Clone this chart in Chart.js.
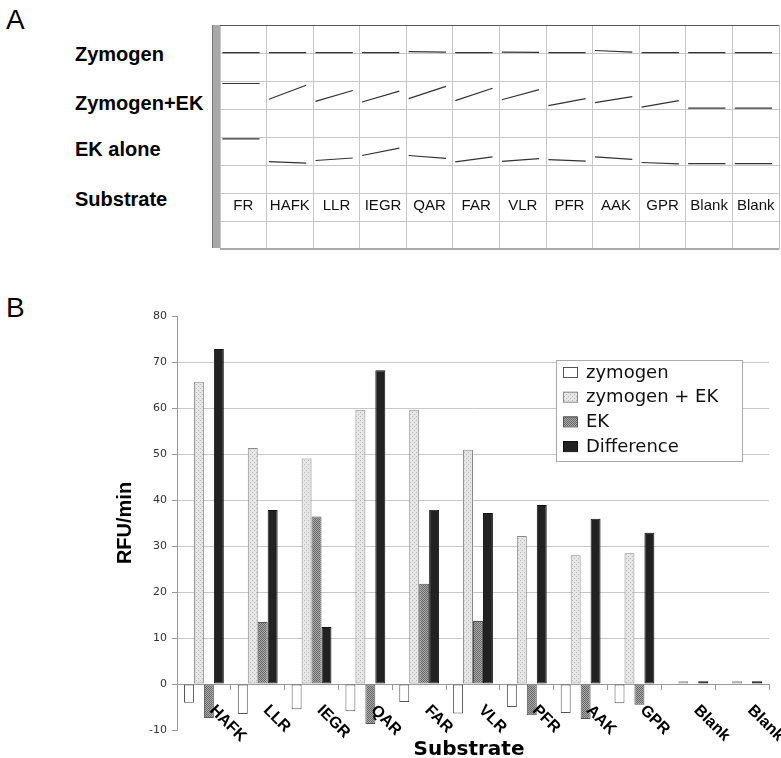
<!DOCTYPE html>
<html>
<head>
<meta charset="utf-8">
<script src="https://cdn.jsdelivr.net/npm/chart.js@4"></script>
<style>
  body { margin: 0; background: #fff; width: 781px; height: 758px; position: relative; overflow: hidden; }
  .lbl { position: absolute; font-family: "Liberation Sans", Arial, sans-serif; line-height: 1; white-space: nowrap; color: #000; }
  .row { font-weight: bold; font-size: 20px; left: 75px; }
  .panel { font-size: 28px; left: 6px; }
  #tableWrap { position: absolute; left: 220px; top: 24px; }
  #grayBar { position: absolute; left: 212px; top: 25px; width: 7px; height: 223px; background: #a8a8a8; border-left: 1px solid #777; }
  #chartWrap { position: absolute; left: 0; top: 300px; }
</style>
</head>
<body>
<div class="lbl panel" style="top:6px">A</div>
<div class="lbl panel" style="top:294px">B</div>
<div class="lbl row" style="top:44px">Zymogen</div>
<div class="lbl row" style="top:93px">Zymogen+EK</div>
<div class="lbl row" style="top:139px">EK alone</div>
<div class="lbl row" style="top:189px">Substrate</div>
<div id="grayBar"></div>
<div id="tableWrap"><canvas id="traceTable" width="560" height="226"></canvas></div>
<div id="chartWrap"><canvas id="rateChart" width="781" height="458"></canvas></div>
<div class="lbl" style="left:369px; width:200px; text-align:center; top:738px; font-family:'DejaVu Sans', sans-serif; font-weight:bold; font-size:20px;">Substrate</div>

<script>
// ---- panel A: progress traces, rise within each cell (start / end of read)
const tableSubstrates = ['FR', 'HAFK', 'LLR', 'IEGR', 'QAR', 'FAR', 'VLR', 'PFR', 'AAK', 'GPR', 'Blank', 'Blank'];
const zymTraceStart   = [0, 0, 0, 0, 0.04, 0, 0.02, 0, 0.08, 0, 0, 0];
const zymTraceEnd     = [0, 0, 0, 0, 0.02, 0, 0.01, 0, 0.02, 0, 0, 0];
const zymEKTraceStart = [0.88, 0.32, 0.24, 0.22, 0.34, 0.27, 0.30, 0.09, 0.20, 0.04, 0, 0];
const zymEKTraceEnd   = [0.88, 0.82, 0.63, 0.61, 0.78, 0.71, 0.66, 0.34, 0.41, 0.27, 0, 0];
const ekTraceStart    = [0.88, 0.07, 0.11, 0.29, 0.29, 0.06, 0.08, 0.14, 0.24, 0.04, 0, 0];
const ekTraceEnd      = [0.88, 0.02, 0.20, 0.55, 0.19, 0.24, 0.18, 0.09, 0.15, -0.01, 0, 0];

// ---- panel B: rates
const substrates = ['HAFK', 'LLR', 'IEGR', 'QAR', 'FAR', 'VLR', 'PFR', 'AAK', 'GPR', 'Blank', 'Blank'];
const zymogen    = [-4.1, -6.5, -5.5, -5.9, -3.9, -6.4, -5.0, -6.3, -4.2, 0, 0];
const zymogenEK  = [65.7, 51.3, 49.0, 59.6, 59.6, 50.9, 32.2, 28.0, 28.4, 0.6, 0.6];
const ekAlone    = [-7.4, 13.5, 36.4, -8.7, 21.8, 13.7, -6.8, -7.6, -4.5, 0, 0];
const difference = [72.8, 37.8, 12.4, 68.2, 37.9, 37.2, 38.9, 35.9, 32.9, 0.6, 0.6];
const yTicks = [-10, 0, 10, 20, 30, 40, 50, 60, 70, 80];

// row baselines of the trace lanes in the table (table rows, 0 = top)
const laneBase = { zym: 0.99, zymEK: 2.97, ek: 4.95 };

function tracePoints(starts, ends, base) {
  const pts = [];
  starts.forEach((s, i) => {
    pts.push({ x: i + 0.05, y: base - s });
    pts.push({ x: i + 0.85, y: base - ends[i] });
    pts.push({ x: i + 0.95, y: null });
  });
  return pts;
}

const cellText = {
  id: 'cellText',
  afterDraw(chart) {
    const { ctx, scales: { x, y } } = chart;
    ctx.save();
    ctx.font = '15px "Liberation Sans", Arial, sans-serif';
    ctx.fillStyle = '#111';
    ctx.textAlign = 'center';
    ctx.textBaseline = 'middle';
    tableSubstrates.forEach((s, i) => {
      ctx.fillText(s, x.getPixelForValue(i + 0.5), y.getPixelForValue(6.46));
    });
    ctx.restore();
  }
};

const traceStyle = { borderColor: '#333', borderWidth: 1.2, pointRadius: 0, spanGaps: false, fill: false };

new Chart(document.getElementById('traceTable'), {
  type: 'line',
  data: {
    datasets: [
      { label: 'Zymogen', data: tracePoints(zymTraceStart, zymTraceEnd, laneBase.zym), ...traceStyle },
      { label: 'Zymogen+EK', data: tracePoints(zymEKTraceStart, zymEKTraceEnd, laneBase.zymEK), ...traceStyle },
      { label: 'EK alone', data: tracePoints(ekTraceStart, ekTraceEnd, laneBase.ek), ...traceStyle }
    ]
  },
  options: {
    responsive: false,
    animation: false,
    layout: { padding: { left: 0, right: 1, top: 1, bottom: 1 } },
    plugins: { legend: { display: false }, tooltip: { enabled: false } },
    scales: {
      x: {
        type: 'linear', min: 0, max: 12,
        ticks: { display: false, stepSize: 1 },
        grid: { color: '#c6c6c6', drawTicks: false },
        border: { display: false },
        afterFit: s => { s.height = 0; }
      },
      y: {
        type: 'linear', min: 0, max: 8, reverse: true,
        ticks: { display: false, stepSize: 1 },
        grid: {
          drawTicks: false,
          color: c => c.tick.value === 0 ? '#555' : (c.tick.value === 8 ? '#aaa' : '#c6c6c6'),
          lineWidth: c => c.tick.value === 8 ? 2 : 1
        },
        border: { display: false },
        afterFit: s => { s.width = 0; }
      }
    }
  },
  plugins: [cellText]
});

// ---- panel B
const rateCanvas = document.getElementById('rateChart');
const rctx = rateCanvas.getContext('2d');

function makePattern(bg, fg, dots) {
  const c = document.createElement('canvas');
  c.width = 4; c.height = 4;
  const g = c.getContext('2d');
  g.fillStyle = bg; g.fillRect(0, 0, 4, 4);
  g.fillStyle = fg;
  dots.forEach(([px, py]) => g.fillRect(px, py, 1, 1));
  return rctx.createPattern(c, 'repeat');
}

const lightDots = makePattern('#e6e6e6', '#b8b8b8', [[0, 0], [2, 2]]);
const darkHatch = makePattern('#ababab', '#666', [[0, 0], [2, 0], [1, 1], [3, 1], [0, 2], [2, 2], [1, 3], [3, 3]]);

const xLabels = {
  id: 'xLabels',
  afterDatasetsDraw(chart) {
    const { ctx, scales: { x, y } } = chart;
    ctx.save();
    ctx.font = 'bold 16px "Liberation Sans", Arial, sans-serif';
    ctx.fillStyle = '#000';
    ctx.textAlign = 'left';
    ctx.textBaseline = 'alphabetic';
    substrates.forEach((s, i) => {
      ctx.save();
      ctx.translate(x.getPixelForValue(i) + 5, y.getPixelForValue(0) + 27);
      ctx.rotate(Math.PI / 4);
      ctx.fillText(s, 0, 0);
      ctx.restore();
    });
    ctx.restore();
  }
};

const boxLegend = {
  id: 'boxLegend',
  afterDraw(chart) {
    const { ctx } = chart;
    const top = 60, left = 556, w = 186, h = 101;
    ctx.save();
    ctx.fillStyle = '#fff';
    ctx.fillRect(left, top, w, h);
    ctx.strokeStyle = '#aaa';
    ctx.lineWidth = 1;
    ctx.strokeRect(left + 0.5, top + 0.5, w, h);
    ctx.font = '18px "DejaVu Sans", sans-serif';
    ctx.textBaseline = 'middle';
    chart.data.datasets.forEach((ds, i) => {
      const cy = top + 12 + i * 24.7;
      ctx.fillStyle = ds.backgroundColor;
      ctx.fillRect(563, cy - 5, 14, 10);
      ctx.strokeStyle = ds.borderColor;
      ctx.strokeRect(563.5, cy - 4.5, 14, 10);
      ctx.fillStyle = '#111';
      ctx.fillText(ds.label, 586, cy + 1);
    });
    ctx.restore();
  }
};

const barBase = { borderWidth: 1, borderSkipped: false };

new Chart(rateCanvas, {
  type: 'bar',
  data: {
    labels: substrates,
    datasets: [
      { label: 'zymogen', data: zymogen, backgroundColor: '#fff', borderColor: '#555', ...barBase },
      { label: 'zymogen + EK', data: zymogenEK, backgroundColor: lightDots, borderColor: '#8a8a8a', ...barBase },
      { label: 'EK', data: ekAlone, backgroundColor: darkHatch, borderColor: '#555', ...barBase },
      { label: 'Difference', data: difference, backgroundColor: '#222', borderColor: '#111', ...barBase }
    ]
  },
  options: {
    responsive: false,
    animation: false,
    layout: { padding: { left: 109, right: 12, top: 16, bottom: 28 } },
    datasets: { bar: { barPercentage: 1, categoryPercentage: 0.74 } },
    plugins: { legend: { display: false }, tooltip: { enabled: false } },
    scales: {
      x: {
        position: { y: 0 },
        offset: true,
        ticks: { display: false },
        grid: { offset: true, drawOnChartArea: false, drawTicks: true, tickLength: 5, tickColor: '#999' },
        border: { color: '#999' }
      },
      y: {
        min: yTicks[0], max: yTicks[yTicks.length - 1],
        afterBuildTicks: s => { s.ticks = yTicks.map(v => ({ value: v })); },
        afterFit: s => { s.width = 68; },
        ticks: { color: '#333', padding: 5, font: { family: '"DejaVu Sans", sans-serif', size: 11 } },
        grid: {
          color: c => (c.tick.value === 80 || c.tick.value === -10) ? 'rgba(0,0,0,0)' : '#c8c8c8',
          tickColor: '#999', tickLength: 5
        },
        border: { color: '#999' },
        title: { display: true, text: 'RFU/min', color: '#000', font: { family: '"Liberation Sans", Arial, sans-serif', size: 20, weight: 'bold' } }
      }
    }
  },
  plugins: [xLabels, boxLegend]
});
</script>
</body>
</html>
